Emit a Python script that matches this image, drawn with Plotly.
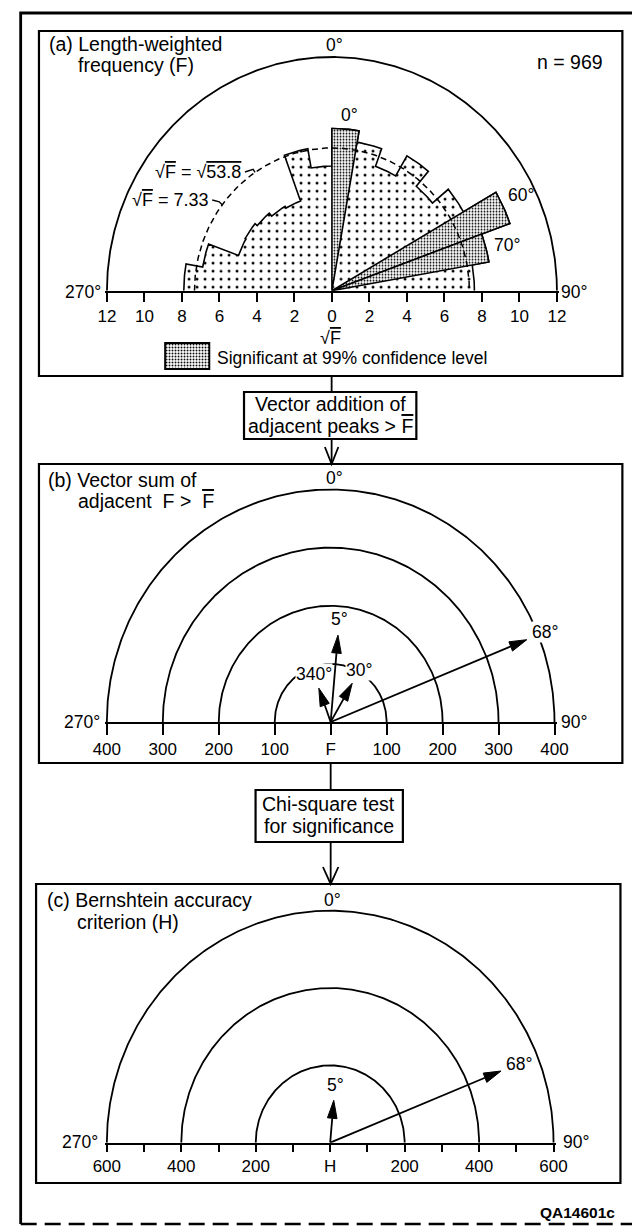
import numpy as np
import plotly.graph_objects as go

W, H = 644, 1226
FONT = "Liberation Sans, Arial, Helvetica, sans-serif"
INK = "black"

# ------------------------------------------------------------------ data
# (a) Length-weighted frequency: sqrt(F) for each 10-degree azimuth bin (bin start)
rose_bin_start = [270, 280, 290, 300, 310, 320, 330, 340, 350,
                  0, 10, 20, 30, 40, 50, 60, 70, 80]
rose_sqrt_f = [7.9, 7.0, 5.3, 5.35, 5.2, 5.0, 4.9, 7.4, 6.4,
               8.33, 7.75, 6.8, 8.0, 7.0, 8.1, 10.1, 8.5, 7.6]
rose_significant = [0, 0, 0, 0, 0, 0, 0, 0, 0,
                    1, 0, 0, 0, 0, 0, 1, 1, 0]
rose_bin_width = 10
rose_bin_labels = {0: "0°", 60: "60°", 70: "70°"}
mean_sqrt_f = 7.33            # sqrt(53.8)
sqrt_f_outer = 12
sqrt_f_tickvals = [-12, -10, -8, -6, -4, -2, 0, 2, 4, 6, 8, 10, 12]
sqrt_f_ticktext = ["12", "10", "8", "6", "4", "2", "0", "2", "4", "6", "8", "10", "12"]
n_count = 969

# (b) Vector sums of adjacent F above the mean
vsum_azimuth = [340, 5, 30, 68]
vsum_length = [62, 150, 77, 378]
vsum_labels = ["340°", "5°", "30°", "68°"]
vsum_rings = [100, 200, 300, 400]
vsum_tickvals = [-400, -300, -200, -100, 0, 100, 200, 300, 400]
vsum_ticktext = ["400", "300", "200", "100", "F", "100", "200", "300", "400"]

# (c) Bernshtein accuracy criterion
bern_azimuth = [5, 68]
bern_length = [110, 495]
bern_labels = ["5°", "68°"]
bern_rings = [200, 400, 600]
bern_tickvals = list(range(-600, 601, 100))
bern_ticktext = ["600", "", "400", "", "200", "", "H", "", "200", "", "400", "", "600"]

# ------------------------------------------------------------- geometry
# pixel centre / baseline / px-per-unit of each half-circle panel
PANELS = {
    "a": dict(ax="", cx=332.3, base=290.7, scale=233.7 / 12, xr=(-12.1, 12.1), yr=(0, 12.3),
              ticklen=9),
    "b": dict(ax="2", cx=331.0, base=722.0, scale=232.5 / 400, xr=(-404, 404), yr=(0, 410),
              ticklen=11),
    "c": dict(ax="3", cx=330.5, base=1142.7, scale=232.0 / 600, xr=(-606, 606), yr=(0, 615),
              ticklen=7),
}

TITLE = 19.5
LABEL = 17.5
TICK = 17


def px(x, y):
    return x / W, 1 - y / H


def polar_xy(r, az):
    a = np.radians(np.asarray(az, dtype=float))
    return r * np.sin(a), r * np.cos(a)


def arc(r, az0, az1, n=None):
    n = n or max(10, int(abs(az1 - az0) * 2))
    return polar_xy(r, np.linspace(az0, az1, n))


def unwrap(az):
    return az if az >= 180 else az + 360


fig = go.Figure()


def add(trace, panel):
    k = PANELS[panel]["ax"]
    trace.update(xaxis="x" + k, yaxis="y" + k, showlegend=False, hoverinfo="skip")
    fig.add_trace(trace)


SPARSE = dict(shape=".", size=8, solidity=0.11, fgcolor=INK, bgcolor="white", fillmode="replace")
DENSE = dict(shape=".", size=3, solidity=0.3, fgcolor=INK, bgcolor="white", fillmode="replace")

# ------------------------------------------------------------ panel (a)
wedges = []
for b, r, sig in zip(rose_bin_start, rose_sqrt_f, rose_significant):
    a0 = unwrap(b)
    xs, ys = arc(r, a0, a0 + rose_bin_width, 14)
    wedges.append((np.r_[0, xs, 0], np.r_[0, ys, 0], sig))

for x, y, sig in wedges:
    if not sig:
        add(go.Scatter(x=x, y=y, mode="lines", fill="toself", fillpattern=SPARSE,
                       fillcolor="white", line=dict(width=0)), "a")

# stepped outline of the whole rose
ox, oy = [], []
for b, r in zip(rose_bin_start, rose_sqrt_f):
    a0 = unwrap(b)
    xs, ys = arc(r, a0, a0 + rose_bin_width, 14)
    ox.extend(xs)
    oy.extend(ys)
add(go.Scatter(x=ox, y=oy, mode="lines", line=dict(color=INK, width=1.6)), "a")

for x, y, sig in wedges:
    if sig:
        add(go.Scatter(x=x, y=y, mode="lines", fill="toself", fillpattern=DENSE,
                       fillcolor="white", line=dict(color=INK, width=1.6)), "a")

mx, my = arc(mean_sqrt_f, 270, 450, 240)
add(go.Scatter(x=mx, y=my, mode="lines", line=dict(color=INK, width=1.5, dash="6px,4px")), "a")

ax_, ay_ = arc(sqrt_f_outer, 270, 450, 360)
add(go.Scatter(x=ax_, y=ay_, mode="lines", line=dict(color=INK, width=1.8)), "a")

# ------------------------------------------------------------ panel (b)
for r in vsum_rings:
    xs, ys = arc(r, 270, 450, 360)
    add(go.Scatter(x=xs, y=ys, mode="lines", line=dict(color=INK, width=1.8)), "b")

# ------------------------------------------------------------ panel (c)
for r in bern_rings:
    xs, ys = arc(r, 270, 450, 360)
    add(go.Scatter(x=xs, y=ys, mode="lines", line=dict(color=INK, width=1.8)), "c")


def vector(panel, az, length, head_px=18, half_px=5):
    s = PANELS[panel]["scale"]
    ux, uy = polar_xy(1.0, az)
    hl, hw = head_px / s, half_px / s
    tx, ty = length * ux, length * uy
    bx, by = tx - hl * ux, ty - hl * uy
    nx, ny = uy, -ux
    add(go.Scatter(x=[0, bx], y=[0, by], mode="lines", line=dict(color=INK, width=1.8)), panel)
    add(go.Scatter(x=[tx, bx + hw * nx, bx - hw * nx, tx], y=[ty, by + hw * ny, by - hw * ny, ty],
                   mode="lines", fill="toself", fillcolor=INK, line=dict(color=INK, width=1)), panel)


for az, ln in zip(vsum_azimuth, vsum_length):
    vector("b", az, ln)
for az, ln in zip(bern_azimuth, bern_length):
    vector("c", az, ln)

# ------------------------------------------------------- legend swatch
fig.add_trace(go.Scatter(x=[0, 1, 1, 0, 0], y=[0, 0, 1, 1, 0], mode="lines", fill="toself",
                         fillpattern=DENSE, fillcolor="white", line=dict(width=0),
                         xaxis="x4", yaxis="y4", showlegend=False, hoverinfo="skip"))

# ------------------------------------------------------------- axes
layout_axes = {}
for key, p in PANELS.items():
    k, s = p["ax"], p["scale"]
    x0, x1 = (p["cx"] + p["xr"][0] * s) / W, (p["cx"] + p["xr"][1] * s) / W
    y0, y1 = 1 - (p["base"] - p["yr"][0] * s) / H, 1 - (p["base"] - p["yr"][1] * s) / H
    tv, tt = {"a": (sqrt_f_tickvals, sqrt_f_ticktext),
              "b": (vsum_tickvals, vsum_ticktext),
              "c": (bern_tickvals, bern_ticktext)}[key]
    layout_axes["xaxis" + k] = dict(
        domain=[x0, x1], range=list(p["xr"]), anchor="y" + k,
        tickmode="array", tickvals=tv, ticktext=tt, ticks="outside",
        ticklen=p["ticklen"], tickwidth=1.6, tickcolor=INK,
        showline=True, linecolor=INK, linewidth=1.8, showgrid=False, zeroline=False,
        tickfont=dict(family=FONT, size=TICK, color=INK), fixedrange=True)
    layout_axes["yaxis" + k] = dict(domain=[y0, y1], range=list(p["yr"]), anchor="x" + k,
                                    visible=False, fixedrange=True)

lx0, ly0 = px(159, 369)
lx1, ly1 = px(205, 343)
layout_axes["xaxis4"] = dict(domain=[lx0, lx1], range=[0, 1], visible=False, anchor="y4")
layout_axes["yaxis4"] = dict(domain=[ly0, ly1], range=[0, 1], visible=False, anchor="x4")

# ------------------------------------------------------------- text
ann = []


def note(x, y, text, size=TITLE, xanchor="center", yanchor="middle", **kw):
    fx, fy = px(x, y)
    ann.append(dict(x=fx, y=fy, xref="paper", yref="paper", text=text, showarrow=False,
                    xanchor=xanchor, yanchor=yanchor, borderpad=0,
                    font=dict(family=FONT, size=size, color=INK), **kw))


def data_note(panel, az, r_px_extra, length, text, size=LABEL, bg=None):
    p = PANELS[panel]
    r = length + r_px_extra / p["scale"]
    x, y = polar_xy(r, az)
    k = p["ax"]
    d = dict(x=float(x), y=float(y), xref="x" + k, yref="y" + k, text=text, showarrow=False,
             xanchor="center", yanchor="middle", font=dict(family=FONT, size=size, color=INK),
             borderpad=0)
    if bg:
        d["bgcolor"] = bg
    ann.append(d)


OVL = "<span style='text-decoration:overline'>{}</span>"

# panel (a)
note(37, 44, "(a) Length-weighted", xanchor="left")
note(68, 65, "frequency (F)", xanchor="left")
note(615, 62, f"n = {n_count}", xanchor="right")
note(335, 45, "0°", size=LABEL)
note(94, 292, "270°", size=LABEL, xanchor="right")
note(569, 292, "90°", size=LABEL, xanchor="left")
note(331, 338, "√" + OVL.format("F"), size=18)
note(212, 358, "Significant at 99% confidence level", size=LABEL, xanchor="left")
for b, r in zip(rose_bin_start, rose_sqrt_f):
    if b in rose_bin_labels:
        off = {0: 14, 60: 22, 70: 22}[b]
        az = {0: 6, 60: 64, 70: 76}[b]
        data_note("a", az, off, r, rose_bin_labels[b])
note(239, 172, "√" + OVL.format("F") + " = √" + OVL.format("53.8"), size=18, xanchor="right")
note(205, 200, "√" + OVL.format("F") + " = 7.33", size=18, xanchor="right")

# panel (b)
note(36, 480, "(b) Vector sum of", xanchor="left")
note(67, 501, "adjacent  F >  " + OVL.format("F"), xanchor="left")
note(335, 478, "0°", size=LABEL)
note(92, 722, "270°", size=LABEL, xanchor="right")
note(569, 722, "90°", size=LABEL, xanchor="left")
for az, ln, lab in zip(vsum_azimuth, vsum_length, vsum_labels):
    extra = {"340°": 15, "5°": 16, "30°": 15, "68°": 20}[lab]
    data_note("b", az, extra, ln, lab, bg="white")

# panel (c)
note(35, 900, "(c) Bernshtein accuracy", xanchor="left")
note(66, 922, "criterion (H)", xanchor="left")
note(333, 900, "0°", size=LABEL)
note(90, 1142, "270°", size=LABEL, xanchor="right")
note(571, 1142, "90°", size=LABEL, xanchor="left")
for az, ln, lab in zip(bern_azimuth, bern_length, bern_labels):
    extra = {"5°": 15, "68°": 20}[lab]
    data_note("c", az, extra, ln, lab)

# flow boxes
note(331, 404, "Vector addition of")
note(331, 426, "adjacent peaks > " + OVL.format("F"))
note(329, 804, "Chi-square test")
note(329, 826, "for significance")

note(627, 1212, "<b>QA14601c</b>", size=15.5, xanchor="right")

# ------------------------------------------------------------- shapes
shapes = []


def rect(x0, y0, x1, y1, w=2.2):
    a0, b0 = px(x0, y0)
    a1, b1 = px(x1, y1)
    shapes.append(dict(type="rect", xref="paper", yref="paper", x0=a0, y0=b0, x1=a1, y1=b1,
                       line=dict(color=INK, width=w)))


def seg(points, w=1.8, dash=None):
    pts = [px(x, y) for x, y in points]
    path = "M" + " L".join(f"{a:.5f},{b:.5f}" for a, b in pts)
    line = dict(color=INK, width=w)
    if dash:
        line["dash"] = dash
    shapes.append(dict(type="path", xref="paper", yref="paper", path=path, line=line))


# outer frame
seg([(9, 1224), (9, 13), (644, 13)], w=2.8)
seg([(9, 1224), (644, 1224)], w=2.4, dash="16px,8px")

# panels and boxes
rect(28, 31, 634, 376)
rect(28, 464, 634, 763)
rect(25, 884, 632, 1183)
rect(241, 392, 420, 439)
rect(253, 790, 406, 842)
rect(159, 343, 205, 369, w=1.8)

# connectors with open arrow heads
seg([(332, 376), (332, 392)])
seg([(332, 439), (332, 464)])
seg([(325, 447), (332, 464), (339, 447)])
seg([(331, 763), (331, 790)])
seg([(331, 842), (331, 884)])
seg([(323, 867), (331, 884), (339, 867)])


def data_to_px(panel, x, y):
    p = PANELS[panel]
    return p["cx"] + x * p["scale"], p["base"] - y * p["scale"]


# leader lines for the mean-value circle (ending on the dashed circle)
ex, ey = data_to_px("a", *polar_xy(mean_sqrt_f, 326))
seg([(242, 172), (float(ex) - 2, float(ey) - 3), (float(ex), float(ey))], w=1.4)
ex, ey = data_to_px("a", *polar_xy(mean_sqrt_f, 307))
seg([(208, 200), (float(ex) - 3, float(ey) - 3), (float(ex), float(ey))], w=1.4)

fig.update_layout(
    width=W, height=H, margin=dict(l=0, r=0, t=0, b=0),
    paper_bgcolor="white", plot_bgcolor="rgba(0,0,0,0)",
    font=dict(family=FONT, color=INK),
    annotations=ann, shapes=shapes, showlegend=False, **layout_axes)

fig.write_html("out.html")
